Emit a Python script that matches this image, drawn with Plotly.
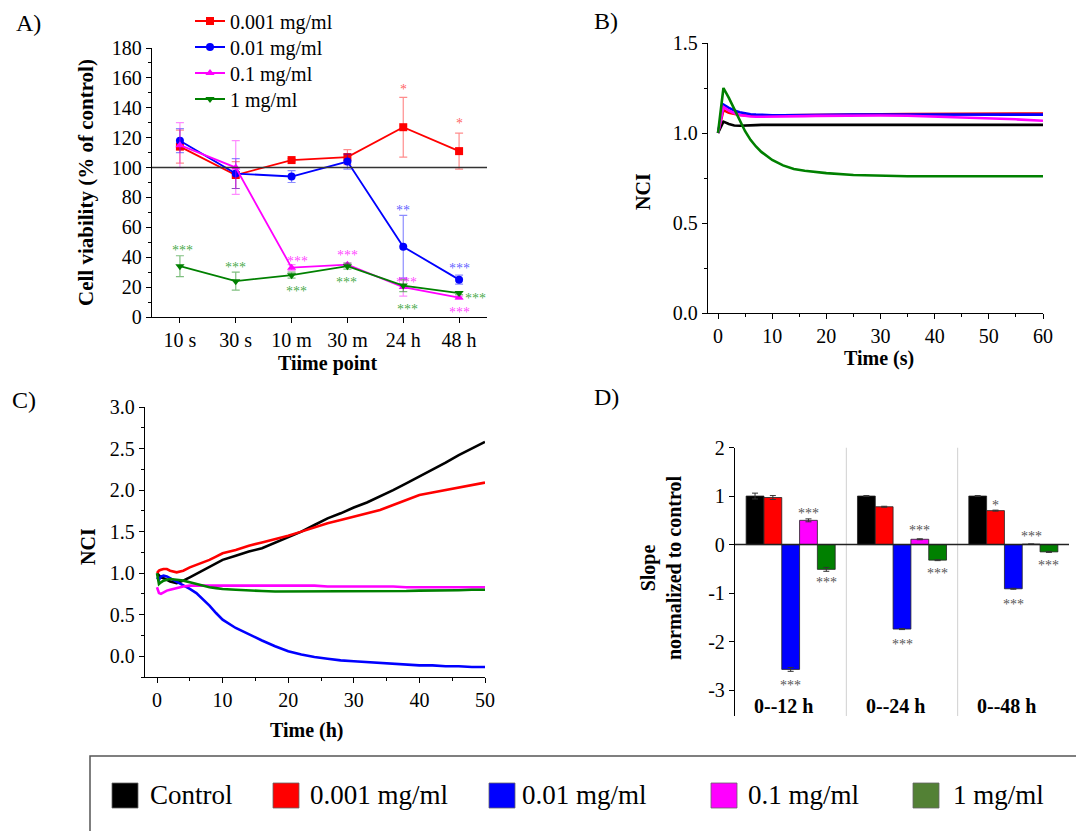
import plotly.graph_objects as go

W, H = 1076, 831
FONT = "Liberation Serif"

def X(px):
    return px / W

def Y(py):
    return 1 - py / H

# ---------------- Panel A data ----------------
time_points = ["10 s", "30 s", "10 m", "30 m", "24 h", "48 h"]
conc_names = ["0.001 mg/ml", "0.01 mg/ml", "0.1 mg/ml", "1 mg/ml"]
viab_0001 = [114, 95, 105, 107, 127, 111]
err_0001 = [11, 9, 1, 5, 20, 12]
viab_001 = [118, 96, 94, 104, 47, 25]
err_001 = [8, 10, 4, 5, 21, 3]
viab_01 = [115, 100, 33, 35, 20, 13]
err_01 = [15, 18, 2, 1, 6, 1]
viab_1 = [34, 24, 28, 34, 21, 16]
err_1 = [7, 6, 2, 2, 4, 1]

# asterisks in panel A (x index, y value, text, series)
astA_x = [4.0, 5.0, 4.0, 5.0, 0.04, 1.0, 2.1, 2.08, 3.0, 2.98, 4.06, 4.07, 5.3, 5.0]
astA_y = [155, 132, 74, 35, 47, 36, 40, 20, 44, 26, 26, 8, 15, 6]
astA_t = ["*", "*", "**", "***", "***", "***", "***", "***", "***", "***", "***", "***", "***", "***"]
astA_s = [0, 0, 1, 1, 3, 3, 2, 3, 2, 3, 2, 3, 3, 2]

# ---------------- Panel B data ----------------
tB = [0, 1, 2, 3, 4, 5, 6, 7, 8, 9, 10, 12, 14, 16, 18, 20, 25, 30, 35, 40, 45, 50, 55, 60]
B_control = [1.00, 1.063, 1.050, 1.042, 1.040, 1.040, 1.042, 1.044, 1.045, 1.045, 1.046, 1.046,
             1.047, 1.047, 1.048, 1.048, 1.049, 1.049, 1.049, 1.048, 1.048, 1.047, 1.046, 1.045]
B_0001 = [1.00, 1.127, 1.112, 1.105, 1.100, 1.098, 1.097, 1.097, 1.097, 1.097, 1.097, 1.098,
          1.099, 1.100, 1.101, 1.102, 1.103, 1.104, 1.105, 1.106, 1.107, 1.108, 1.108, 1.108]
B_001 = [1.00, 1.158, 1.140, 1.125, 1.115, 1.108, 1.104, 1.102, 1.100, 1.099, 1.099, 1.099,
         1.100, 1.100, 1.101, 1.101, 1.102, 1.103, 1.103, 1.103, 1.103, 1.103, 1.102, 1.102]
B_01 = [1.00, 1.145, 1.125, 1.110, 1.100, 1.095, 1.092, 1.090, 1.090, 1.090, 1.091, 1.092,
        1.093, 1.094, 1.095, 1.096, 1.097, 1.097, 1.096, 1.092, 1.088, 1.082, 1.076, 1.068]
B_1 = [1.00, 1.250, 1.195, 1.130, 1.070, 1.010, 0.962, 0.925, 0.895, 0.870, 0.850, 0.820,
       0.800, 0.790, 0.782, 0.777, 0.767, 0.762, 0.760, 0.760, 0.760, 0.760, 0.760, 0.760]

# ---------------- Panel C data ----------------
tC = [0, 0.3, 0.6, 1, 1.5, 2, 3, 4, 5, 6, 7, 8, 9, 10, 12, 14, 16, 18, 20, 22, 24, 26, 28, 30,
      32, 34, 36, 38, 40, 42, 44, 46, 48, 50]
C_control = [1.00, 0.97, 0.95, 0.94, 0.92, 0.90, 0.88, 0.91, 0.95, 0.99, 1.03, 1.07, 1.11, 1.16,
             1.21, 1.26, 1.30, 1.37, 1.43, 1.50, 1.58, 1.66, 1.72, 1.79, 1.85, 1.92, 2.00, 2.08,
             2.16, 2.25, 2.33, 2.42, 2.50, 2.58]
C_0001 = [1.00, 1.03, 1.04, 1.05, 1.05, 1.03, 1.01, 1.03, 1.07, 1.10, 1.13, 1.16, 1.20, 1.24,
          1.28, 1.33, 1.37, 1.41, 1.45, 1.50, 1.55, 1.60, 1.64, 1.68, 1.72, 1.76, 1.82, 1.88,
          1.94, 1.97, 2.00, 2.03, 2.06, 2.09]
C_001 = [0.95, 0.92, 0.96, 0.97, 0.96, 0.94, 0.90, 0.86, 0.81, 0.76, 0.69, 0.61, 0.52, 0.44,
         0.34, 0.26, 0.19, 0.12, 0.06, 0.02, -0.01, -0.03, -0.05, -0.06, -0.07, -0.08, -0.09,
         -0.10, -0.11, -0.11, -0.12, -0.12, -0.13, -0.13]
C_01 = [0.83, 0.76, 0.75, 0.77, 0.79, 0.80, 0.82, 0.84, 0.85, 0.85, 0.85, 0.85, 0.85, 0.85,
        0.85, 0.85, 0.85, 0.85, 0.85, 0.85, 0.85, 0.84, 0.84, 0.84, 0.84, 0.84, 0.84, 0.83,
        0.83, 0.83, 0.83, 0.83, 0.83, 0.83]
C_1 = [1.00, 0.87, 0.89, 0.91, 0.92, 0.93, 0.92, 0.91, 0.89, 0.87, 0.85, 0.83, 0.82, 0.81,
       0.80, 0.79, 0.785, 0.78, 0.78, 0.78, 0.78, 0.78, 0.78, 0.78, 0.78, 0.78, 0.785, 0.785,
       0.79, 0.79, 0.795, 0.795, 0.80, 0.80]

# ---------------- Panel D data ----------------
periods = ["0--12 h", "0--24 h", "0--48 h"]
slope_control = [1.00, 1.00, 1.00]
slope_0001 = [0.97, 0.78, 0.70]
slope_001 = [-2.57, -1.74, -0.91]
slope_01 = [0.50, 0.11, 0.01]
slope_1 = [-0.51, -0.32, -0.15]
slope_err_control = [0.06, 0.01, 0.01]
slope_err_0001 = [0.04, 0.01, 0.01]
slope_err_001 = [0.04, 0.01, 0.01]
slope_err_01 = [0.03, 0.01, 0.0]
slope_err_1 = [0.04, 0.01, 0.01]

astD_x = [0.16, 0.0, 0.32, 1.16, 1.0, 1.32, 1.84, 2.16, 2.0, 2.32]
astD_y = [0.73, -2.82, -0.70, 0.37, -1.98, -0.51, 0.88, 0.24, -1.16, -0.34]
astD_t = ["***", "***", "***", "***", "***", "***", "*", "***", "***", "***"]

all_names = ["Control"] + conc_names
line_colors = ["#000000", "#FF0000", "#0000FF", "#FF00FF", "#008000"]
err_colors = ["rgba(0,0,0,0.6)", "rgba(255,0,0,0.45)", "rgba(0,0,255,0.45)",
              "rgba(255,0,255,0.45)", "rgba(0,128,0,0.5)"]
ast_colors = ["rgba(255,40,40,0.75)", "rgba(40,40,255,0.75)", "rgba(255,0,255,0.75)",
              "rgba(0,140,0,0.75)"]
legend_colors = ["#000000", "#FF0000", "#0000FF", "#FF00FF", "#538135"]
symbolsA = ["square", "circle", "triangle-up", "triangle-down"]

fig = go.Figure()

# ---------- Panel A traces ----------
legend_ids = ["legend", "legend2", "legend3", "legend4"]
seriesA = [(viab_0001, err_0001), (viab_001, err_001), (viab_01, err_01), (viab_1, err_1)]
for i, (vals, errs) in enumerate(seriesA):
    fig.add_trace(go.Scatter(
        x=list(range(len(time_points))), y=vals, name=conc_names[i],
        mode="lines+markers", xaxis="x", yaxis="y",
        line=dict(color=line_colors[i + 1], width=1.8),
        marker=dict(symbol=symbolsA[i], size=8, color=line_colors[i + 1]),
        error_y=dict(type="data", array=errs, visible=True, color=err_colors[i + 1],
                     thickness=1.2, width=4),
        showlegend=True, legend=legend_ids[i], cliponaxis=False,
    ))

# ---------- Panel B traces ----------
seriesB = [B_control, B_0001, B_001, B_01, B_1]
for i, vals in enumerate(seriesB):
    fig.add_trace(go.Scatter(x=tB, y=vals, mode="lines", xaxis="x2", yaxis="y2",
                             line=dict(color=line_colors[i], width=2.6), showlegend=False,
                             name=all_names[i]))

# ---------- Panel C traces ----------
seriesC = [C_control, C_0001, C_001, C_01, C_1]
for i, vals in enumerate(seriesC):
    fig.add_trace(go.Scatter(x=tC, y=vals, mode="lines", xaxis="x3", yaxis="y3",
                             line=dict(color=line_colors[i], width=2.6), showlegend=False,
                             name=all_names[i]))

# ---------- Panel D traces ----------
seriesD = [(slope_control, slope_err_control), (slope_0001, slope_err_0001),
           (slope_001, slope_err_001), (slope_01, slope_err_01), (slope_1, slope_err_1)]
for i, (vals, errs) in enumerate(seriesD):
    fig.add_trace(go.Bar(x=list(range(len(periods))), y=vals, xaxis="x4", yaxis="y4",
                         marker=dict(color=line_colors[i], line=dict(color="#222", width=0.8)),
                         error_y=dict(type="data", array=errs, visible=True, color="#333",
                                      thickness=1, width=3),
                         showlegend=False, name=all_names[i]))

annotations = []
shapes = []

# asterisks A
for x, y, t, s in zip(astA_x, astA_y, astA_t, astA_s):
    annotations.append(dict(x=x, y=y, xref="x", yref="y", text=t, showarrow=False,
                            xanchor="center", yanchor="middle",
                            font=dict(family=FONT, size=14, color=ast_colors[s]),
                            yshift=-4))
# asterisks D
for x, y, t in zip(astD_x, astD_y, astD_t):
    annotations.append(dict(x=x, y=y, xref="x4", yref="y4", text=t, showarrow=False,
                            xanchor="center", yanchor="middle",
                            font=dict(family=FONT, size=14, color="#555"), yshift=-4))
# B '**'
annotations.append(dict(x=64.4, y=0.76, xref="x2", yref="y2", text="**", showarrow=False,
                        xanchor="center", yanchor="middle",
                        font=dict(family=FONT, size=14, color="rgba(0,140,0,0.8)"), yshift=-4))

# D category labels
for i, p in enumerate(periods):
    annotations.append(dict(x=i - 0.06, y=Y(706), xref="x4", yref="paper",
                            text="<b>%s</b>" % p, showarrow=False,
                            xanchor="center", yanchor="middle",
                            font=dict(family=FONT, size=20, color="black")))

# axis titles and panel labels
def title(text, x, y, angle=0, size=20):
    annotations.append(dict(x=X(x), y=Y(y), xref="paper", yref="paper", text=text,
                            showarrow=False, textangle=angle,
                            xanchor="center", yanchor="middle",
                            font=dict(family=FONT, size=size, color="black")))

title("<b>Cell viability (% of control)</b>", 86, 183, -90, size=21)
title("<b>Tiime point</b>", 327, 363)
title("<b>NCI</b>", 643, 192, -90)
title("<b>Time (s)</b>", 879, 358)
title("<b>NCI</b>", 88, 547, -90)
title("<b>Time (h)</b>", 307, 730)
title("<b>Slope<br>normalized to control</b>", 661, 568, -90)
title("A)", 28, 23, size=24)
title("B)", 606, 21, size=24)
title("C)", 24, 400, size=24)
title("D)", 606, 397, size=24)

# reference line at 100 in A
shapes.append(dict(type="line", xref="x", yref="y", x0=-0.5, x1=5.73, y0=100, y1=100,
                   line=dict(color="#333", width=1.5)))
# separators in D
for xs in [0.5, 1.5]:
    shapes.append(dict(type="line", xref="x4", yref="y4", x0=xs, x1=xs, y0=-3.53, y1=2,
                       line=dict(color="#d0d0d0", width=1), layer="below"))
# zero line in D
shapes.append(dict(type="line", xref="x4", yref="y4", x0=-0.5, x1=2.5, y0=0, y1=0,
                   line=dict(color="#222", width=1.5)))

# bottom legend box
shapes.append(dict(type="rect", xref="paper", yref="paper", x0=X(90), x1=X(1090), y0=Y(756),
                   y1=Y(840), line=dict(color="#555", width=1.5), fillcolor="rgba(0,0,0,0)"))
leg_sq_x = [112, 273, 489, 711, 913]
leg_tx_x = [148, 308, 520, 746, 951]
for i, name in enumerate(all_names):
    shapes.append(dict(type="rect", xref="paper", yref="paper", x0=X(leg_sq_x[i]),
                       x1=X(leg_sq_x[i] + 26), y0=Y(808), y1=Y(783),
                       fillcolor=legend_colors[i], line=dict(color="#666", width=0.8)))
    annotations.append(dict(x=X(leg_tx_x[i]), y=Y(795), xref="paper", yref="paper",
                            xanchor="left", yanchor="middle", text=name, showarrow=False,
                            font=dict(family=FONT, size=27, color="black")))

tickfont = dict(family=FONT, size=20, color="black")
axis_common = dict(showline=True, linecolor="black", linewidth=1.3, ticks="outside",
                   ticklen=5, tickcolor="black", tickwidth=1.2, showgrid=False,
                   zeroline=False, tickfont=tickfont, automargin=False)

legend_layout = {}
for i, lid in enumerate(legend_ids):
    legend_layout[lid] = dict(x=X(190), y=Y(21 + 26 * i), xanchor="left", yanchor="middle",
                              font=dict(family=FONT, size=20, color="black"),
                              bgcolor="rgba(0,0,0,0)", borderwidth=0)

fig.update_layout(
    width=W, height=H, margin=dict(l=0, r=0, t=0, b=0, autoexpand=False),
    paper_bgcolor="white", plot_bgcolor="white",
    font=dict(family=FONT, color="black"),
    showlegend=True,
    barmode="group", bargap=0.2, bargroupgap=0,
    xaxis=dict(domain=[X(152), X(487)], anchor="y", range=[-0.5, 5.5],
               tickvals=list(range(len(time_points))), ticktext=time_points, **axis_common),
    yaxis=dict(domain=[Y(317), Y(48)], anchor="x", range=[0, 180], dtick=20,
               minor=dict(ticks="outside", ticklen=3, dtick=10, tickcolor="black"),
               **axis_common),
    xaxis2=dict(domain=[X(708), X(1043)], anchor="y2", range=[-1.85, 60], dtick=10,
                minor=dict(ticks="outside", ticklen=3, dtick=5, tickcolor="black"),
                **axis_common),
    yaxis2=dict(domain=[Y(313), Y(43)], anchor="x2", range=[0, 1.5], dtick=0.5,
                tickformat=".1f",
                minor=dict(ticks="outside", ticklen=3, dtick=0.25, tickcolor="black"),
                **axis_common),
    xaxis3=dict(domain=[X(145), X(485)], anchor="y3", range=[-1.83, 50], dtick=10,
                minor=dict(ticks="outside", ticklen=3, dtick=5, tickcolor="black"),
                **axis_common),
    yaxis3=dict(domain=[Y(677), Y(407)], anchor="x3", range=[-0.25, 3.0], dtick=0.5,
                tickformat=".1f",
                minor=dict(ticks="outside", ticklen=3, dtick=0.25, tickcolor="black"),
                **axis_common),
    xaxis4=dict(domain=[X(735), X(1069)], anchor="y4", range=[-0.5, 2.5], showline=False,
                showticklabels=False, ticks="", showgrid=False, zeroline=False,
                automargin=False),
    yaxis4=dict(domain=[Y(716), Y(447.5)], anchor="x4", range=[-3.53, 2],
                tickvals=[2, 1, 0, -1, -2, -3], ticktext=["2", "1", "0", "-1", "-2", "-3"],
                **axis_common),
    annotations=annotations, shapes=shapes,
    **legend_layout,
)

fig.write_html("out.html")
